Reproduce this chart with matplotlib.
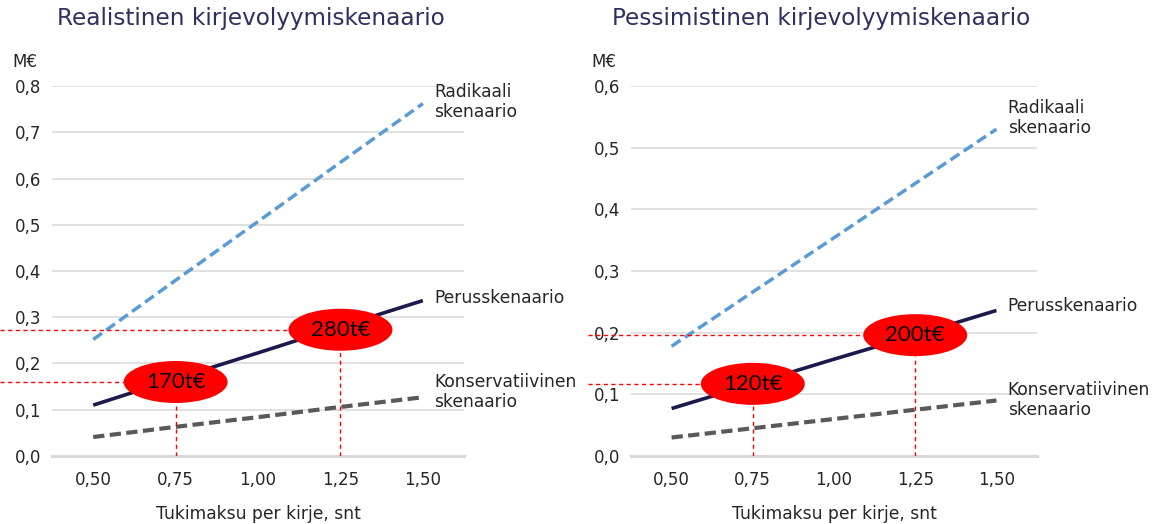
import matplotlib
matplotlib.use("Agg")
import matplotlib.pyplot as plt
from matplotlib.patches import Ellipse

# x-akseli: tukimaksu per kirje (snt)
tukimaksu = [0.50, 0.75, 1.00, 1.25, 1.50]
tick_labels = ["0,50", "0,75", "1,00", "1,25", "1,50"]

# Realistinen kirjevolyymiskenaario (M€)
rad_real = [0.252, 0.380, 0.507, 0.635, 0.762]
perus_real = [0.110, 0.167, 0.223, 0.280, 0.336]
kons_real = [0.041, 0.063, 0.084, 0.106, 0.127]

# Pessimistinen kirjevolyymiskenaario (M€)
rad_pess = [0.178, 0.266, 0.354, 0.442, 0.530]
perus_pess = [0.077, 0.117, 0.157, 0.196, 0.236]
kons_pess = [0.030, 0.045, 0.060, 0.075, 0.090]

# punaiset huomiot: (x, y, teksti)
callouts_real = [(0.75, 0.160, "170t€"), (1.25, 0.273, "280t€")]
callouts_pess = [(0.75, 0.117, "120t€"), (1.25, 0.196, "200t€")]

TXT = "#262626"
GRID = "#d9d9d9"


def px_to_data(ax, w_px, h_px):
    bb = ax.get_window_extent()
    x0, x1 = ax.get_xlim()
    y0, y1 = ax.get_ylim()
    return w_px / bb.width * (x1 - x0), h_px / bb.height * (y1 - y0)


def draw_panel(ax, rad, perus, kons, ymax, callouts, label_y, hline_start):
    ax.set_xlim(0.375, 1.625)
    ax.set_ylim(0, ymax)
    yt = [i / 10 for i in range(int(round(ymax * 10)) + 1)]
    ax.set_yticks(yt)
    ax.set_yticklabels([f"{v:.1f}".replace(".", ",") for v in yt])
    ax.set_xticks(tukimaksu)
    ax.set_xticklabels(tick_labels)
    for v in yt[1:]:
        ax.axhline(v, color=GRID, lw=1.1, zorder=0)
    ax.axhline(0, color=GRID, lw=2.2, zorder=0, clip_on=False)
    for s in ax.spines.values():
        s.set_visible(False)
    ax.tick_params(length=0, labelsize=12, colors=TXT)
    ax.tick_params(axis="y", pad=8)
    ax.tick_params(axis="x", pad=11)
    ax.set_xlabel("Tukimaksu per kirje, snt", fontsize=12.3, color=TXT, labelpad=11)

    ax.plot(tukimaksu, rad, color="#5b9bd5", lw=2.5, dashes=(3.1, 1.5), zorder=3)
    ax.plot(tukimaksu, perus, color="#1c1a4d", lw=2.6, solid_capstyle="butt", zorder=3)
    ax.plot(tukimaksu, kons, color="#595959", lw=3.0, dashes=(2.7, 1.3), zorder=3)

    names = ["Radikaali\nskenaario", "Perusskenaario", "Konservatiivinen\nskenaario"]
    for name, y in zip(names, label_y):
        ax.text(1.535, y, name, fontsize=12.3, color=TXT, va="center", ha="left",
                linespacing=1.15)

    ew, eh = px_to_data(ax, 104, 42)
    for x, y, t in callouts:
        ax.add_patch(Ellipse((x, y), ew, eh, color="#ff0000", lw=0, zorder=5))
        ax.text(x, y, t, fontsize=16, family="Lato", color="black", ha="center",
                va="center", zorder=6)
        ax.plot([x, x], [0, y - eh / 2], color="#ff0000", lw=1, dashes=(3, 2.5), zorder=4)
        ax.plot([hline_start, x - ew / 2], [y, y], color="#ff0000", lw=1,
                dashes=(3, 2.5), zorder=4, clip_on=False)

    ax.text(-0.035, 1.065, "M€", transform=ax.transAxes, fontsize=12, color=TXT,
            ha="right", va="center")


fig = plt.figure(figsize=(11.61, 5.24), dpi=100)
ax1 = fig.add_axes([0.0448, 0.1298, 0.3549, 0.706])
ax2 = fig.add_axes([0.5435, 0.1298, 0.3497, 0.706])

draw_panel(ax1, rad_real, perus_real, kons_real, 0.8, callouts_real,
           [0.765, 0.342, 0.138], 0.375 - 52 / 330)
draw_panel(ax2, rad_pess, perus_pess, kons_pess, 0.6, callouts_pess,
           [0.548, 0.243, 0.091], 0.375 - 43 / 325)

fig.text(251 / 1161, 1 - 18 / 524, "Realistinen kirjevolyymiskenaario", fontsize=16.7,
         color="#2e3060", ha="center", va="center")
fig.text(821 / 1161, 1 - 18 / 524, "Pessimistinen kirjevolyymiskenaario", fontsize=16.7,
         color="#2e3060", ha="center", va="center")

fig.savefig("out.png", dpi=100)
